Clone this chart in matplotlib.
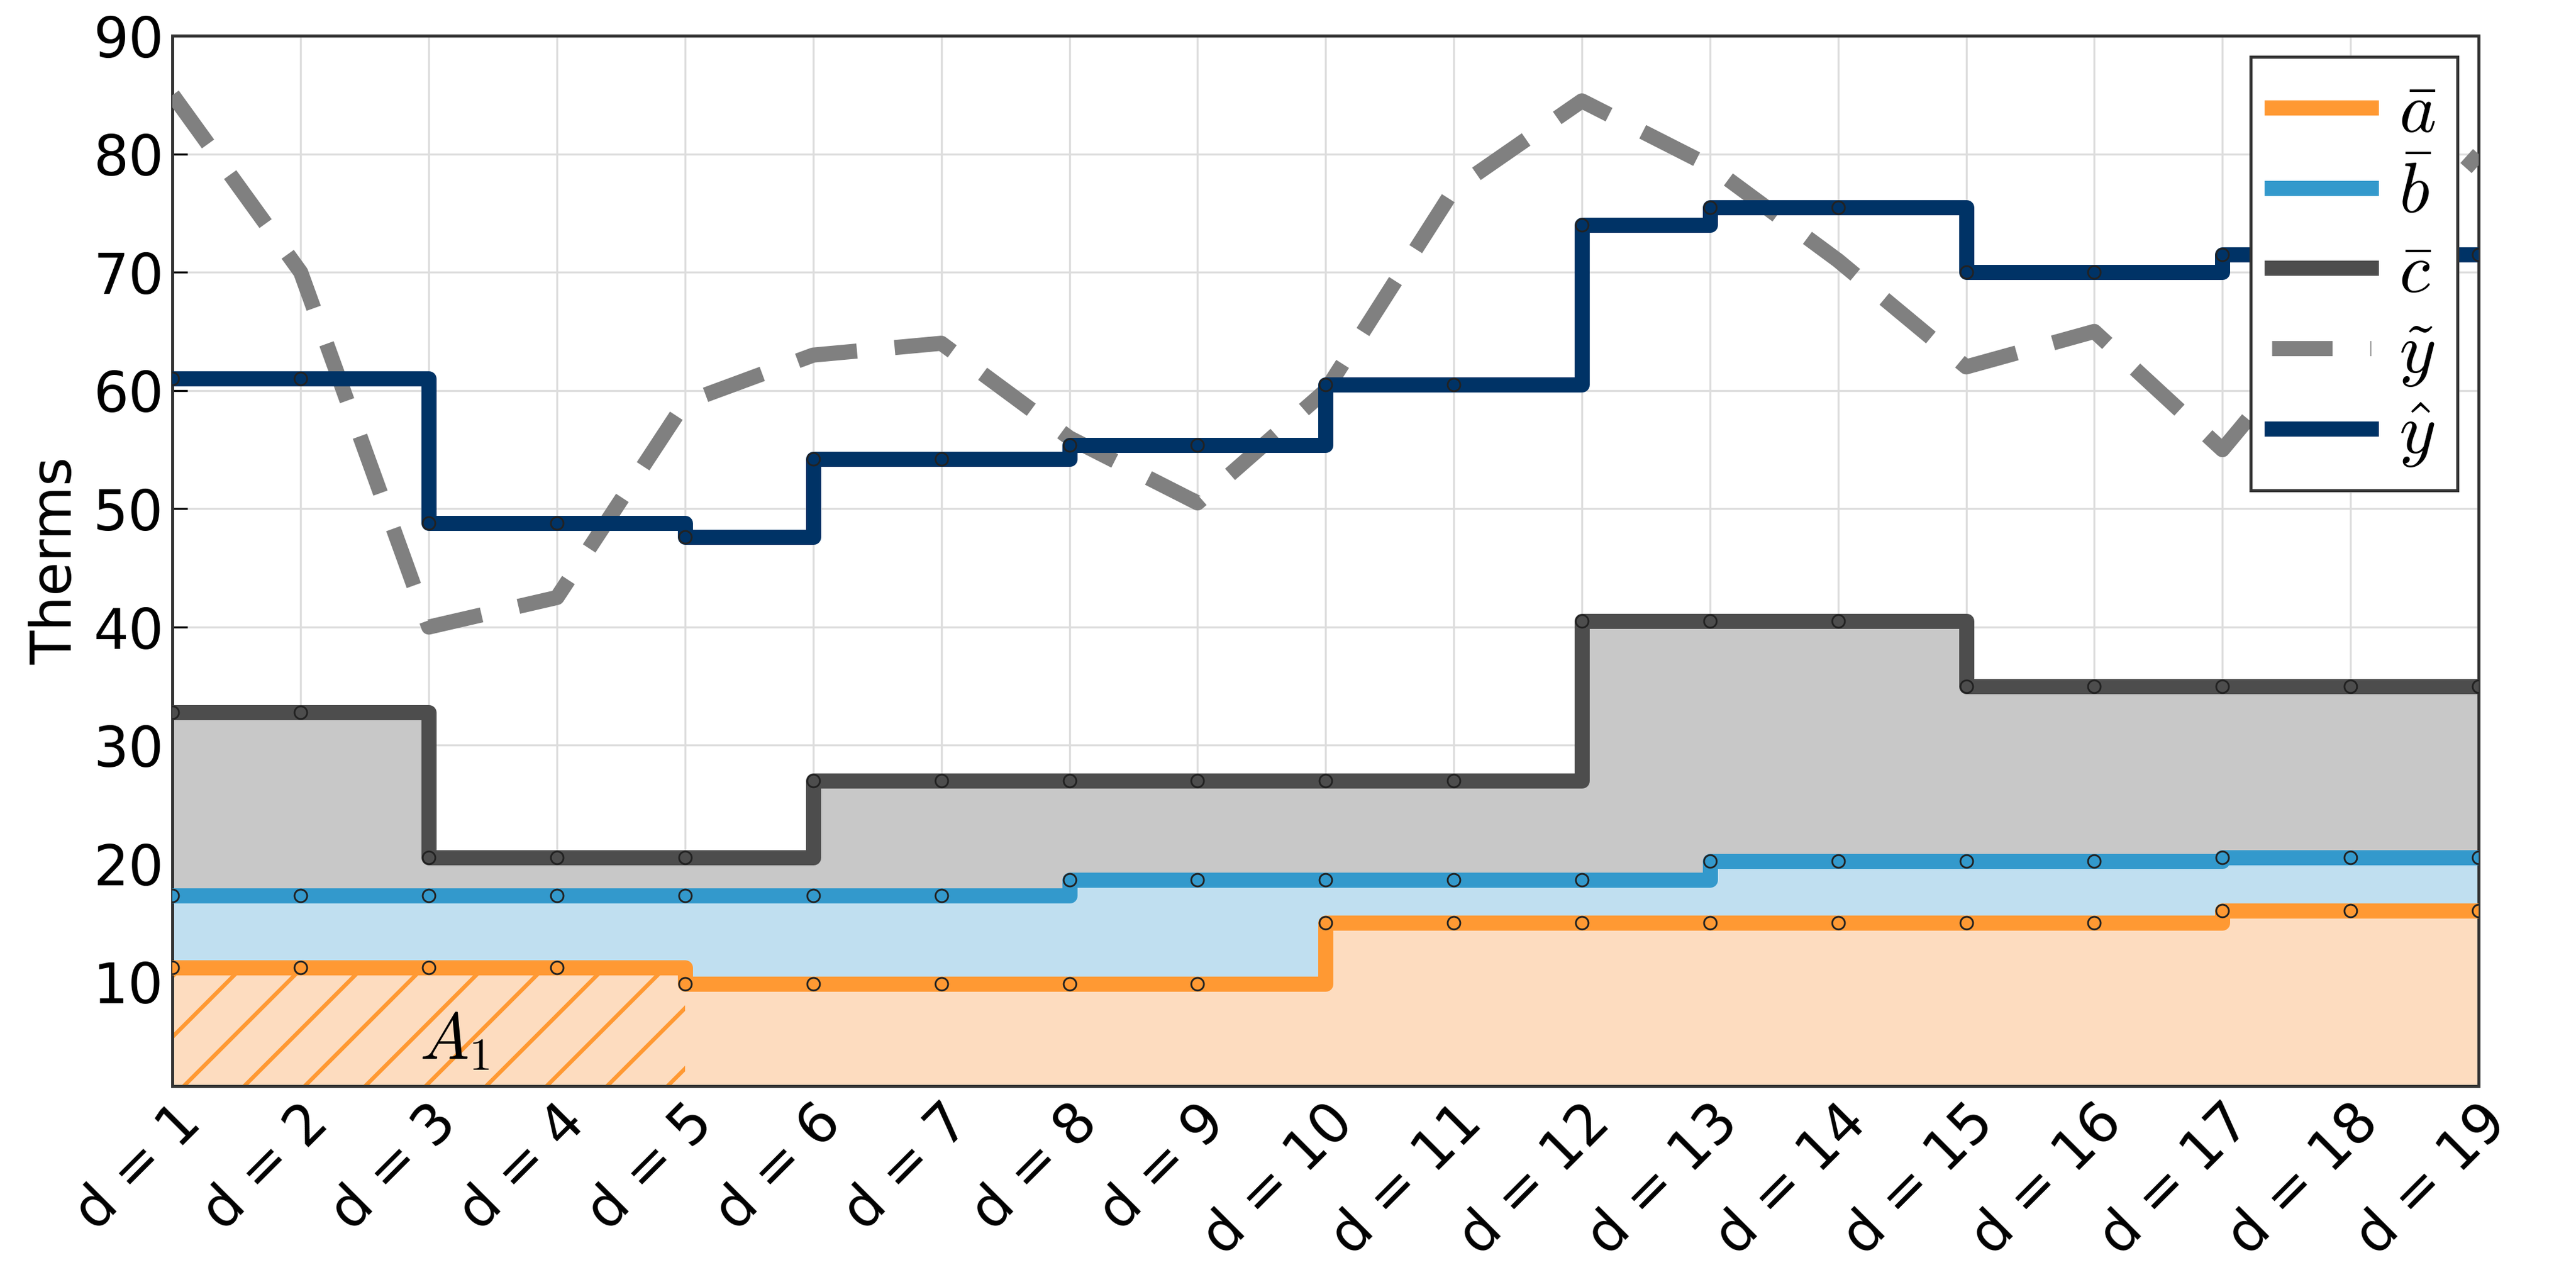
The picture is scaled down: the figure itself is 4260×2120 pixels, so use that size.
import numpy as np
import matplotlib.pyplot as plt

days = np.arange(1, 20)
labels = [f'd = {d}' for d in days]

a_bar = [11.2, 11.2, 11.2, 11.2, 9.8, 9.8, 9.8, 9.8, 9.8, 15, 15, 15, 15, 15, 15, 15, 16, 16, 16]
b_bar = [17.3, 17.3, 17.3, 17.3, 17.3, 17.3, 17.3, 18.6, 18.6, 18.6, 18.6, 18.6, 20.2, 20.2, 20.2, 20.2, 20.5, 20.5, 20.5]
c_bar = [32.8, 32.8, 20.5, 20.5, 20.5, 27, 27, 27, 27, 27, 27, 40.5, 40.5, 40.5, 35, 35, 35, 35, 35]
y_tilde = [85, 70, 40, 42.5, 59, 63, 64, 56, 50.5, 60, 77, 84.5, 79, 71, 62, 65, 55, 68, 80]
y_hat = [61, 61, 48.8, 48.8, 47.6, 54.2, 54.2, 55.4, 55.4, 60.5, 60.5, 74, 75.5, 75.5, 70, 70, 71.5, 71.5, 71.5]

c_orange = '#ff9933'
c_blue = '#3399cc'
c_dark = '#4d4d4d'
c_grey = '#808080'
c_navy = '#003366'

plt.rcParams['font.family'] = 'DejaVu Sans'
plt.rcParams['mathtext.fontset'] = 'cm'
plt.rcParams['hatch.linewidth'] = 1.6
fig = plt.figure(figsize=(14.203, 7.067), dpi=300)
ax = fig.add_axes([0.067, 0.153, 0.895, 0.819])

ymin = 1.2
ax.fill_between(days, ymin, a_bar, step='post', color='#fddcbf', lw=0, zorder=1)
ax.fill_between(days, a_bar, b_bar, step='post', color='#c0dff0', lw=0, zorder=1)
ax.fill_between(days, b_bar, c_bar, step='post', color='#c8c8c8', lw=0, zorder=1)
# hatched area A1
ax.fill_between(days[:5], ymin, a_bar[:5], step='post', facecolor='none',
                edgecolor=c_orange, hatch='/', lw=0, zorder=1.5)
ax.text(3.2, 5, r'$A_1$', fontsize=26, ha='center', va='center', zorder=2)

mk = dict(marker='o', ms=5, mfc='none', mec='#222222', mew=0.7)
ax.step(days, a_bar, where='post', color=c_orange, lw=6, zorder=3, label=r'$\bar{a}$')
ax.plot(days, a_bar, ls='none', zorder=6, **mk)
ax.step(days, b_bar, where='post', color=c_blue, lw=6, zorder=3, label=r'$\bar{b}$')
ax.plot(days, b_bar, ls='none', zorder=6, **mk)
ax.step(days, c_bar, where='post', color=c_dark, lw=6, zorder=3, label=r'$\bar{c}$')
ax.plot(days, c_bar, ls='none', zorder=6, **mk)
ax.plot(days, y_tilde, color=c_grey, lw=6, ls=(0, (4, 2.5)), zorder=4, label=r'$\tilde{y}$')
ax.step(days, y_hat, where='post', color=c_navy, lw=6, zorder=5, label=r'$\hat{y}$')
ax.plot(days, y_hat, ls='none', zorder=6, **mk)

ax.set_xlim(1, 19)
ax.set_ylim(ymin, 90)
ax.set_xticks(days)
ax.set_xticklabels(labels, rotation=45, ha='right', rotation_mode='anchor', fontsize=22)
ax.set_yticks(range(10, 91, 10))
ax.tick_params(axis='y', labelsize=22)
ax.tick_params(direction='in', length=6)
ax.set_ylabel('Therms', fontsize=22)
ax.grid(True, color='#dddddd', lw=0.8, zorder=0)
ax.set_axisbelow(True)
for s in ax.spines.values():
    s.set_linewidth(1.2)
    s.set_color('#333333')

leg = ax.legend(loc='upper right', fontsize=28, handlelength=1.4, handletextpad=0.4,
                fancybox=False, edgecolor='#333333', framealpha=1,
                borderaxespad=0.3, labelspacing=0.15, borderpad=0.3)
leg.get_frame().set_linewidth(1.2)
leg.set_zorder(10)

fig.savefig('out.png', dpi=300)
